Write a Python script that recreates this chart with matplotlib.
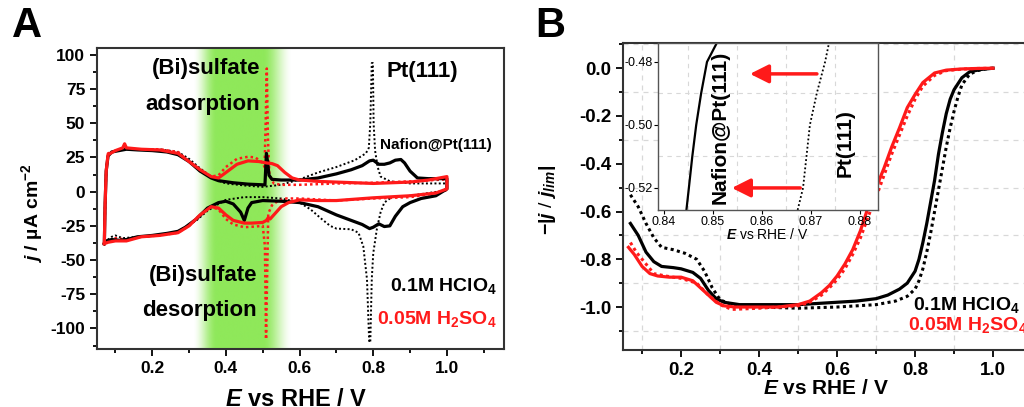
import numpy as np
import matplotlib
matplotlib.use('Agg')
import matplotlib.pyplot as plt
from matplotlib.ticker import MultipleLocator

plt.rcParams['font.family'] = ['Liberation Sans', 'DejaVu Sans']
plt.rcParams['mathtext.fontset'] = 'custom'
plt.rcParams['mathtext.rm'] = 'Liberation Sans:bold'
plt.rcParams['mathtext.bf'] = 'Liberation Sans:bold'
plt.rcParams['mathtext.it'] = 'Liberation Sans:italic:bold'
plt.rcParams['axes.unicode_minus'] = False

# ---------------- Panel A: cyclic voltammograms ----------------
# black solid: Nafion@Pt(111) in 0.1M HClO4
naf_hclo4_an_E = [0.07, 0.072, 0.075, 0.08, 0.09, 0.11, 0.13, 0.16, 0.2, 0.24, 0.27, 0.3, 0.33, 0.36,
                  0.38, 0.42, 0.46, 0.5, 0.506, 0.51, 0.513, 0.517, 0.525, 0.55, 0.6, 0.65, 0.7, 0.74,
                  0.77, 0.79, 0.8, 0.815, 0.83, 0.845, 0.86, 0.875, 0.885, 0.9, 0.92, 0.95, 1.0]
naf_hclo4_an_j = [-38, -10, 15, 26, 29, 30, 31, 30.5, 30, 29, 27, 22, 15, 10,
                  8, 6.5, 5.5, 5, 5, 28, 22, 12, 9, 8.5, 8.5, 10, 13, 16,
                  19, 22.5, 23, 20, 20, 21, 23, 23.5, 21, 15, 10, 9.5, 9.5]
naf_hclo4_ca_E = [1.0, 1.0, 0.97, 0.93, 0.9, 0.88, 0.86, 0.845, 0.83, 0.815, 0.8, 0.79, 0.77, 0.75,
                  0.7, 0.65, 0.6, 0.55, 0.5, 0.47, 0.46, 0.45, 0.44, 0.42, 0.4, 0.38, 0.35, 0.32,
                  0.29, 0.27, 0.24, 0.2, 0.16, 0.13, 0.11, 0.09, 0.075, 0.07]
naf_hclo4_ca_j = [9.5, 2, -3, -5, -8, -11, -18, -25, -25.5, -23.5, -26, -27, -24, -22,
                  -17, -11, -8, -7, -6.5, -8, -12, -21, -15, -9, -7, -8, -12, -20,
                  -26, -29, -30.5, -32, -33, -35, -35.5, -35, -36, -38]

# black dotted: Pt(111) in 0.1M HClO4
pt_hclo4_an_E = [0.07, 0.072, 0.075, 0.08, 0.1, 0.13, 0.17, 0.22, 0.27, 0.3, 0.33, 0.36, 0.38, 0.4,
                 0.45, 0.5, 0.55, 0.6, 0.65, 0.7, 0.75, 0.78, 0.788, 0.792, 0.796, 0.799, 0.801,
                 0.805, 0.812, 0.82, 0.846, 0.9, 1.0]
pt_hclo4_an_j = [-37, -10, 15, 27, 30, 31, 31, 31, 29, 24, 17, 11, 8, 6,
                 4.5, 3.5, 5, 9, 14, 18, 23, 28, 32, 50, 94, 94, 50,
                 30, 18, 11, 7.5, 6, 6]
pt_hclo4_ca_E = [1.0, 1.0, 0.95, 0.9, 0.85, 0.83, 0.82, 0.81, 0.8, 0.796, 0.792, 0.789, 0.783, 0.773,
                 0.76, 0.74, 0.7, 0.683, 0.66, 0.63, 0.6, 0.55, 0.5, 0.45, 0.4, 0.38, 0.35, 0.32,
                 0.29, 0.27, 0.24, 0.2, 0.16, 0.12, 0.1, 0.09, 0.075, 0.07]
pt_hclo4_ca_j = [6, 1, -1, -3, -4, -8, -15, -27, -45, -64, -110, -110, -64, -40,
                 -30, -27.5, -27, -25, -20, -13, -8, -5, -4, -4, -6, -9, -14, -21,
                 -26, -29, -31, -32, -33, -34, -32, -33, -36, -37]

# red solid: Nafion@Pt(111) in 0.05M H2SO4
naf_h2so4_an_E = [0.07, 0.072, 0.075, 0.08, 0.1, 0.12, 0.125, 0.13, 0.17, 0.22, 0.27, 0.3, 0.33, 0.36,
                  0.38, 0.4, 0.43, 0.46, 0.49, 0.51, 0.525, 0.54, 0.56, 0.58, 0.6, 0.65, 0.7, 0.8,
                  0.9, 0.95, 1.0]
naf_h2so4_an_j = [-38, -10, 15, 27, 30, 32, 35, 32, 31, 30.5, 28, 22, 16, 11,
                  10, 14, 20, 22.5, 22, 21, 20.5, 19, 14, 10, 8.5, 7.5, 7, 6,
                  7, 8.5, 11]
naf_h2so4_ca_E = [1.0, 1.0, 0.97, 0.9, 0.8, 0.7, 0.65, 0.6, 0.57, 0.55, 0.53, 0.52, 0.515, 0.51,
                  0.5, 0.47, 0.45, 0.42, 0.4, 0.38, 0.36, 0.33, 0.3, 0.27, 0.22, 0.17, 0.13, 0.1,
                  0.08, 0.07]
naf_h2so4_ca_j = [11, 2, -1, -3, -4.5, -6.5, -6.5, -6, -8, -11, -17, -20, -19, -21,
                  -22.5, -23, -23, -21, -17, -12, -11, -17, -25, -30, -32, -33, -36, -36,
                  -37, -38]

# red dotted: Pt(111) in 0.05M H2SO4
pt_h2so4_an_E = [0.07, 0.072, 0.075, 0.08, 0.1, 0.13, 0.17, 0.22, 0.27, 0.3, 0.33, 0.36, 0.38, 0.4,
                 0.43, 0.46, 0.48, 0.5, 0.505, 0.508, 0.511, 0.514, 0.518, 0.53, 0.55, 0.6, 0.7, 0.8,
                 0.9, 1.0]
pt_h2so4_an_j = [-37, -10, 15, 28, 30, 31, 31, 31, 29, 22, 15, 11, 12, 18,
                 24, 25.5, 25, 21, 18, 50, 90, 40, 12, 6, 5, 5, 6, 6.5,
                 7.5, 9]
pt_h2so4_ca_E = [1.0, 1.0, 0.95, 0.9, 0.8, 0.7, 0.6, 0.56, 0.54, 0.525, 0.515, 0.512, 0.509, 0.506,
                 0.5, 0.48, 0.45, 0.42, 0.4, 0.38, 0.36, 0.33, 0.3, 0.27, 0.22, 0.17, 0.13, 0.1,
                 0.08, 0.07]
pt_h2so4_ca_j = [9, 1, -2, -4, -5, -6.5, -5, -5, -7, -10, -16, -60, -108, -40,
                 -25, -25.5, -26, -24, -20, -13, -11, -17, -25, -30, -32, -33, -35, -34,
                 -36, -37]

# ---------------- Panel B: normalised ORR curves ----------------
orr_naf_hclo4_E = [0.07, 0.09, 0.11, 0.13, 0.15, 0.18, 0.2, 0.23, 0.25, 0.27, 0.29, 0.31, 0.35, 0.4,
                   0.5, 0.6, 0.65, 0.7, 0.73, 0.76, 0.78, 0.8, 0.81, 0.82, 0.83, 0.84, 0.85, 0.86,
                   0.87, 0.88, 0.89, 0.9, 0.92, 0.94, 0.97, 1.0]
orr_naf_hclo4_y = [-0.65, -0.7, -0.77, -0.81, -0.83, -0.835, -0.84, -0.855, -0.88, -0.93, -0.965, -0.98,
                   -0.99, -0.99, -0.99, -0.98, -0.975, -0.965, -0.95, -0.925, -0.9, -0.85, -0.8, -0.73,
                   -0.65, -0.56, -0.47, -0.36, -0.27, -0.19, -0.13, -0.09, -0.04, -0.015, -0.005, 0.0]
orr_pt_hclo4_E = [0.07, 0.09, 0.11, 0.13, 0.15, 0.18, 0.21, 0.24, 0.26, 0.28, 0.3, 0.33, 0.4, 0.5,
                  0.6, 0.7, 0.75, 0.78, 0.8, 0.81, 0.82, 0.83, 0.84, 0.85, 0.86, 0.87, 0.88, 0.89,
                  0.9, 0.91, 0.92, 0.94, 0.96, 0.98, 1.0]
orr_pt_hclo4_y = [-0.53, -0.58, -0.65, -0.71, -0.75, -0.76, -0.775, -0.8, -0.85, -0.92, -0.97, -0.99,
                  -1.0, -1.005, -1.0, -0.99, -0.975, -0.955, -0.925, -0.89, -0.84, -0.77, -0.69, -0.6,
                  -0.51, -0.42, -0.33, -0.25, -0.18, -0.12, -0.07, -0.025, -0.01, -0.003, 0.0]
orr_naf_h2so4_E = [0.065, 0.08, 0.1, 0.12, 0.14, 0.17, 0.2, 0.23, 0.25, 0.27, 0.29, 0.31, 0.34, 0.4,
                   0.45, 0.5, 0.53, 0.56, 0.58, 0.6, 0.62, 0.64, 0.66, 0.68, 0.7, 0.72, 0.74, 0.76,
                   0.78, 0.8, 0.82, 0.85, 0.88, 0.92, 0.96, 1.0]
orr_naf_h2so4_y = [-0.75, -0.78, -0.83, -0.86, -0.87, -0.875, -0.875, -0.89, -0.92, -0.95, -0.98, -0.995,
                   -1.0, -1.0, -1.0, -0.99, -0.975, -0.94, -0.91, -0.87, -0.82, -0.76, -0.68, -0.58,
                   -0.5, -0.42, -0.33, -0.25, -0.165, -0.11, -0.06, -0.02, -0.008, -0.003, -0.001, 0.0]
orr_pt_h2so4_E = [0.07, 0.085, 0.1, 0.13, 0.16, 0.2, 0.24, 0.27, 0.3, 0.33, 0.4, 0.45, 0.5, 0.53,
                  0.56, 0.58, 0.6, 0.62, 0.64, 0.66, 0.68, 0.7, 0.72, 0.74, 0.76, 0.78, 0.8, 0.82,
                  0.85, 0.88, 0.92, 0.96, 1.0]
orr_pt_h2so4_y = [-0.73, -0.77, -0.8, -0.86, -0.87, -0.88, -0.9, -0.95, -0.99, -1.01, -1.005, -1.0,
                  -0.995, -0.98, -0.95, -0.92, -0.885, -0.84, -0.78, -0.71, -0.62, -0.54, -0.45,
                  -0.36, -0.28, -0.2, -0.13, -0.075, -0.03, -0.01, -0.004, -0.001, 0.0]

# inset (zoom around -0.5)
inset_naf_E = [0.8446, 0.8451, 0.8458, 0.8466, 0.8476, 0.8488, 0.8508]
inset_naf_y = [-0.527, -0.520, -0.510, -0.500, -0.490, -0.480, -0.474]
inset_pt_E = [0.8673, 0.8684, 0.8698, 0.8712, 0.8729, 0.8737]
inset_pt_y = [-0.527, -0.520, -0.500, -0.490, -0.480, -0.474]

RED = '#ff1a1a'
DOT_A = (0, (1, 1.2))

fig = plt.figure(figsize=(10.24, 4.07), dpi=100)

# ---------------- panel A ----------------
axA = fig.add_axes([0.0947, 0.1425, 0.3975, 0.7396])
xlimA, ylimA = (0.05, 1.155), (-115, 105)

# green gradient band for (bi)sulfate region
gx = np.linspace(0.30, 0.60, 400)
alpha = np.interp(gx, [0.31, 0.375, 0.50, 0.58], [0, 1, 1, 0])
alpha = alpha * alpha * (3 - 2 * alpha)
band = np.zeros((1, gx.size, 4))
band[..., :3] = matplotlib.colors.to_rgb('#8fe85a')
band[..., 3] = alpha
axA.imshow(band, extent=[0.30, 0.60, ylimA[0], ylimA[1]], aspect='auto', zorder=0, interpolation='bilinear')

def loop(an_E, an_j, ca_E, ca_j):
    return list(an_E) + list(ca_E), list(an_j) + list(ca_j)

E, j = loop(pt_hclo4_an_E, pt_hclo4_an_j, pt_hclo4_ca_E, pt_hclo4_ca_j)
axA.plot(E, j, color='black', lw=1.4, ls=DOT_A, zorder=2)
E, j = loop(pt_h2so4_an_E, pt_h2so4_an_j, pt_h2so4_ca_E, pt_h2so4_ca_j)
axA.plot(E, j, color=RED, lw=1.8, ls=DOT_A, zorder=3)
E, j = loop(naf_hclo4_an_E, naf_hclo4_an_j, naf_hclo4_ca_E, naf_hclo4_ca_j)
axA.plot(E, j, color='black', lw=2.3, zorder=4)
E, j = loop(naf_h2so4_an_E, naf_h2so4_an_j, naf_h2so4_ca_E, naf_h2so4_ca_j)
axA.plot(E, j, color=RED, lw=2.3, zorder=5)

axA.set_xlim(*xlimA)
axA.set_ylim(*ylimA)
axA.xaxis.set_major_locator(MultipleLocator(0.2))
axA.xaxis.set_minor_locator(MultipleLocator(0.1))
axA.yaxis.set_major_locator(MultipleLocator(25))
axA.yaxis.set_minor_locator(MultipleLocator(12.5))
axA.set_xticks([0.2, 0.4, 0.6, 0.8, 1.0])
axA.set_xticklabels(['0.2', '0.4', '0.6', '0.8', '1.0'])
axA.tick_params(which='both', direction='out', top=False, right=False, width=1.3)
axA.tick_params(which='major', length=5, labelsize=12.5)
axA.tick_params(which='minor', length=3)
for lab in axA.get_xticklabels() + axA.get_yticklabels():
    lab.set_fontweight('bold')
for s in axA.spines.values():
    s.set_linewidth(1.5)
    s.set_color('#333333')

tkw = dict(fontsize=16, fontweight='bold', zorder=6)
axA.text(0.493, 90, '(Bi)sulfate', ha='right', va='center', **tkw)
axA.text(0.493, 64, 'adsorption', ha='right', va='center', **tkw)
axA.text(0.485, -61, '(Bi)sulfate', ha='right', va='center', **tkw)
axA.text(0.483, -87, 'desorption', ha='right', va='center', **tkw)
axA.text(0.835, 88, 'Pt(111)', ha='left', va='center', **tkw)
axA.text(0.818, 34, 'Nafion@Pt(111)', ha='left', va='center', fontsize=11, fontweight='bold', zorder=6)
axA.text(1.136, -69, r'0.1M HClO$_4$', ha='right', va='center', fontsize=14, fontweight='bold')
axA.text(1.136, -93, r'0.05M H$_2$SO$_4$', ha='right', va='center', fontsize=14, fontweight='bold',
         color=RED)

fig.text(0.031, 1 - 213 / 407, r'$j$ / µA cm$^{-2}$', rotation=90, ha='center', va='center',
         fontsize=14, fontweight='bold')
fig.text(296 / 1024, 1 - 400 / 407, r'$E$ vs RHE / V', ha='center', va='center',
         fontsize=17, fontweight='bold')
fig.text(0.012, 0.935, 'A', fontsize=30, fontweight='bold', ha='left', va='center')

# ---------------- panel B ----------------
axB = fig.add_axes([0.6084, 0.140, 0.4185, 0.754])
axB.plot(orr_pt_hclo4_E, orr_pt_hclo4_y, color='black', lw=2.2, ls=(0, (1, 1.1)), zorder=2)
axB.plot(orr_naf_hclo4_E, orr_naf_hclo4_y, color='black', lw=2.3, zorder=3)
axB.plot(orr_pt_h2so4_E, orr_pt_h2so4_y, color=RED, lw=2.2, ls=(0, (1, 1.1)), zorder=4)
axB.plot(orr_naf_h2so4_E, orr_naf_h2so4_y, color=RED, lw=2.3, zorder=5)
axB.set_xlim(0.051, 1.15)
axB.set_ylim(-1.18, 0.105)
axB.xaxis.set_major_locator(MultipleLocator(0.2))
axB.xaxis.set_minor_locator(MultipleLocator(0.1))
axB.yaxis.set_major_locator(MultipleLocator(0.2))
axB.yaxis.set_minor_locator(MultipleLocator(0.1))
axB.set_xticks([0.2, 0.4, 0.6, 0.8, 1.0])
axB.set_xticklabels(['0.2', '0.4', '0.6', '0.8', '1.0'])
axB.set_yticks([0.0, -0.2, -0.4, -0.6, -0.8, -1.0])
axB.set_yticklabels(['0.0', '-0.2', '-0.4', '-0.6', '-0.8', '-1.0'])
axB.grid(which='minor', ls=(0, (4, 4)), color='#d8d8d8', lw=0.9)
axB.tick_params(which='both', direction='out', top=False, right=False, width=1.3)
axB.tick_params(which='major', length=5, labelsize=13.5)
axB.tick_params(which='minor', length=3)
for lab in axB.get_xticklabels() + axB.get_yticklabels():
    lab.set_fontweight('bold')
for s in axB.spines.values():
    s.set_linewidth(1.5)
    s.set_color('#333333')
axB.text(0.795, -0.99, r'0.1M HClO$_4$', ha='left', va='center', fontsize=14, fontweight='bold', zorder=6)
axB.text(0.782, -1.075, r'0.05M H$_2$SO$_4$', ha='left', va='center', fontsize=14, fontweight='bold',
         color=RED, zorder=6)

fig.text(548 / 1024, 1 - 200 / 407, r'$-|j$ / $j_{lim}|$', rotation=90, ha='center', va='center',
         fontsize=14, fontweight='normal')
fig.text(826 / 1024, 1 - 388 / 407, r'$E$ vs RHE / V', ha='center', va='center',
         fontsize=15, fontweight='bold')
fig.text(0.523, 0.935, 'B', fontsize=30, fontweight='bold', ha='left', va='center')

# ---------------- inset ----------------
axI = fig.add_axes([658 / 1024, 1 - 210 / 407, 220 / 1024, 167 / 407])
axI.set_facecolor('white')
axI.plot(inset_naf_E, inset_naf_y, color='black', lw=1.6)
axI.plot(inset_pt_E, inset_pt_y, color='black', lw=1.3, ls=(0, (1, 1.3)))
axI.set_xlim(0.8388, 0.8837)
axI.set_ylim(-0.527, -0.474)
axI.xaxis.set_major_locator(MultipleLocator(0.01))
axI.xaxis.set_minor_locator(MultipleLocator(0.005))
axI.yaxis.set_major_locator(MultipleLocator(0.02))
axI.yaxis.set_minor_locator(MultipleLocator(0.01))
axI.set_xticks([0.84, 0.85, 0.86, 0.87, 0.88])
axI.set_xticklabels(['0.84', '0.85', '0.86', '0.87', '0.88'])
axI.set_yticks([-0.52, -0.50, -0.48])
axI.set_yticklabels(['-0.52', '-0.50', '-0.48'])
axI.grid(which='minor', ls=(0, (4, 4)), color='#d8d8d8', lw=0.8)
axI.tick_params(which='both', direction='out', top=False, right=False, labelsize=9, pad=1)
axI.tick_params(which='major', length=3)
axI.tick_params(which='minor', length=0)
for s in axI.spines.values():
    s.set_linewidth(1.0)
    s.set_color('#555555')
arrow = dict(arrowstyle='-|>,head_length=0.7,head_width=0.35', color=RED, lw=2.5, mutation_scale=16)
axI.annotate('', xy=(0.8570, -0.4838), xytext=(0.8718, -0.4838), arrowprops=arrow)
axI.annotate('', xy=(0.8533, -0.5200), xytext=(0.8684, -0.5200), arrowprops=arrow)
axI.text(0.8514, -0.5008, 'Nafion@Pt(111)', rotation=90, ha='center', va='center',
         fontsize=15, fontweight='bold')
axI.text(0.8769, -0.5056, 'Pt(111)', rotation=90, ha='center', va='center',
         fontsize=15, fontweight='bold')
fig.text(767 / 1024, 1 - 235 / 407, r'$E$ vs RHE / V', ha='center', va='center', fontsize=10,
         fontweight='normal')

fig.savefig('out.png', dpi=100)
